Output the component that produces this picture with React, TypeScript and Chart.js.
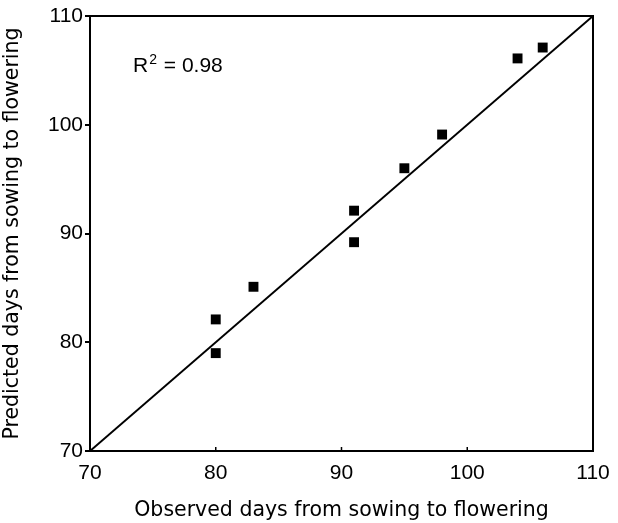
import React, { useEffect, useRef } from "react";
import { Chart, registerables } from "chart.js";

Chart.register(...registerables);

// ---- data ----
const observed = [80, 80, 83, 91, 91, 95, 98, 104, 106];
const predicted = [82.1, 79, 85.1, 92.1, 89.2, 96, 99.1, 106.1, 107.1];
const lineObserved = [70, 110];
const linePredicted = [70, 110];
const axisMin = 70;
const axisMax = 110;
const axisStep = 10;
const xTitle = "Observed days from sowing to flowering";
const yTitle = "Predicted days from sowing to flowering";
const fitLabel = ["R", "2", " = 0.98"];

const TICK_FONT = "'Liberation Sans', Arial, Helvetica, sans-serif";
const TITLE_FONT = "'DejaVu Sans', 'Liberation Sans', sans-serif";

const framePlugin = {
  id: "frame",
  afterDraw(chart: any) {
    const { ctx, chartArea, scales } = chart;
    const { left, right, top, bottom } = chartArea;
    ctx.save();
    ctx.strokeStyle = "#000";
    ctx.lineWidth = 2;
    ctx.strokeRect(left, top, right - left, bottom - top);
    // small inward ticks on the x axis
    ctx.lineWidth = 1.5;
    const xs = scales.x;
    for (let v = axisMin + axisStep; v < axisMax; v += axisStep) {
      const px = xs.getPixelForValue(v);
      ctx.beginPath();
      ctx.moveTo(px, bottom);
      ctx.lineTo(px, bottom - 4);
      ctx.stroke();
    }
    // R^2 label
    ctx.fillStyle = "#000";
    ctx.textBaseline = "alphabetic";
    ctx.textAlign = "left";
    const bx = left + 43;
    const by = top + 56;
    ctx.font = `21px ${TICK_FONT}`;
    ctx.fillText(fitLabel[0], bx, by);
    const w0 = ctx.measureText(fitLabel[0]).width;
    ctx.font = `14px ${TICK_FONT}`;
    ctx.fillText(fitLabel[1], bx + w0 + 1, by - 8);
    const w1 = ctx.measureText(fitLabel[1]).width;
    ctx.font = `21px ${TICK_FONT}`;
    ctx.fillText(fitLabel[2], bx + w0 + w1 + 2, by);
    ctx.restore();
  },
};

export default function App() {
  const ref = useRef<HTMLCanvasElement | null>(null);
  useEffect(() => {
    if (!ref.current) return;
    const chart = new Chart(ref.current, {
      type: "scatter",
      data: {
        datasets: [
          {
            type: "line",
            data: lineObserved.map((x, i) => ({ x, y: linePredicted[i] })),
            borderColor: "#000",
            borderWidth: 2,
            pointRadius: 0,
            fill: false,
          } as any,
          {
            type: "scatter",
            data: observed.map((x, i) => ({ x, y: predicted[i] })),
            pointStyle: "rect",
            pointRadius: 7,
            backgroundColor: "#000",
            borderWidth: 0,
          } as any,
        ],
      },
      options: {
        animation: false,
        responsive: false,
        layout: { padding: { top: 16, right: 25, left: 0, bottom: 0 } },
        plugins: { legend: { display: false }, tooltip: { enabled: false } },
        scales: {
          x: {
            type: "linear",
            position: "bottom",
            min: axisMin,
            max: axisMax,
            grid: { display: false },
            border: { display: true, color: "#000", width: 2 },
            ticks: {
              stepSize: axisStep,
              color: "#000",
              padding: 2,
              font: { family: TICK_FONT, size: 21 },
            },
            title: {
              display: true,
              text: xTitle,
              color: "#000",
              font: { family: TITLE_FONT, size: 20.5 },
              padding: 0,
            },
            afterFit: (s: any) => {
              s.height = 72;
            },
          },
          y: {
            type: "linear",
            min: axisMin,
            max: axisMax,
            grid: {
              display: true,
              drawOnChartArea: false,
              drawTicks: true,
              tickLength: 5,
              color: "#000",
              lineWidth: 2,
            },
            border: { display: true, color: "#000", width: 2 },
            ticks: {
              stepSize: axisStep,
              color: "#000",
              padding: 2,
              font: { family: TICK_FONT, size: 21 },
            },
            title: {
              display: true,
              text: yTitle,
              color: "#000",
              font: { family: TITLE_FONT, size: 20.5 },
              padding: 0,
            },
            afterFit: (s: any) => {
              s.width = 90;
            },
          },
        },
      },
      plugins: [framePlugin],
    });
    return () => chart.destroy();
  }, []);
  return (
    <div style={{ position: "fixed", left: 0, top: 0, width: 618, height: 523, background: "#fff" }}>
      <canvas ref={ref} width={618} height={523} style={{ display: "block" }} />
    </div>
  );
}
